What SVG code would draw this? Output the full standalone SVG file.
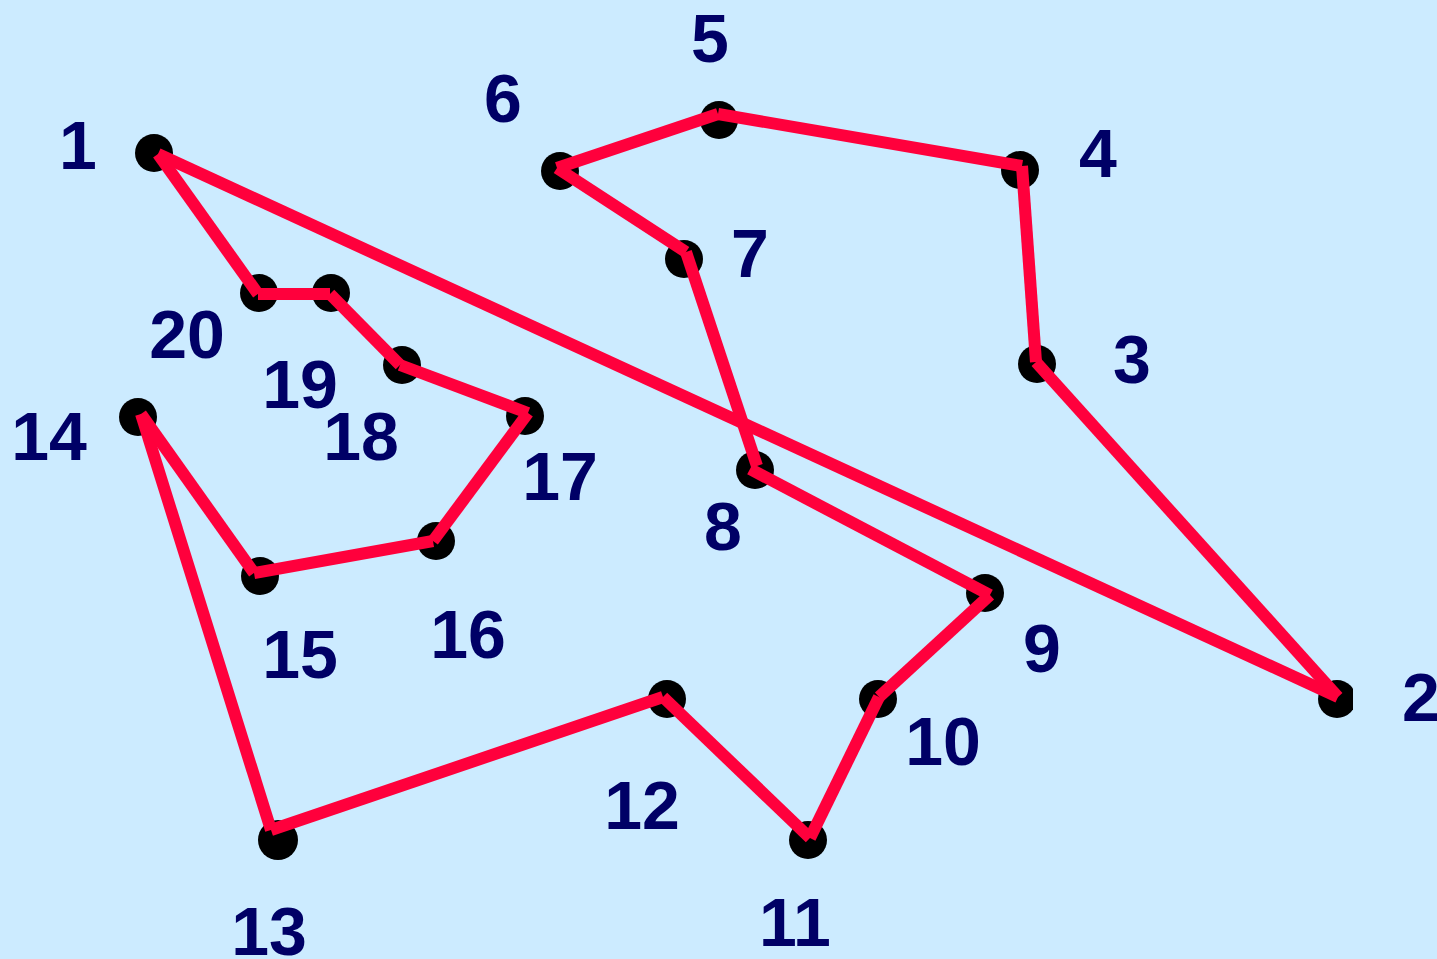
<svg xmlns="http://www.w3.org/2000/svg" width="1437" height="959" viewBox="0 0 1437 959">
<defs>
<style>
.dot{fill:#000000;}
.seg{stroke:#FF003C;stroke-width:12;stroke-linecap:butt;fill:none;}
.lbl{font-family:"Liberation Sans",Arial,sans-serif;font-weight:bold;font-size:68px;fill:#000066;text-anchor:middle;}
</style>
<clipPath id="plot"><rect x="0" y="0" width="1353" height="959"/></clipPath>
</defs>
<rect x="0" y="0" width="1437" height="959" fill="#CCEBFF"/>
<g id="dots" clip-path="url(#plot)">
<circle id="n1" class="dot" cx="154" cy="153" r="19"/>
<circle id="n2" class="dot" cx="1337" cy="699" r="19"/>
<circle id="n3" class="dot" cx="1037" cy="364" r="19"/>
<circle id="n4" class="dot" cx="1020" cy="170" r="19"/>
<circle id="n5" class="dot" cx="719" cy="120" r="19"/>
<circle id="n6" class="dot" cx="560" cy="171" r="19"/>
<circle id="n7" class="dot" cx="684" cy="259" r="19"/>
<circle id="n8" class="dot" cx="755" cy="470" r="19"/>
<circle id="n9" class="dot" cx="985" cy="593" r="19"/>
<circle id="n10" class="dot" cx="878" cy="699" r="19"/>
<circle id="n11" class="dot" cx="808" cy="840" r="19"/>
<circle id="n12" class="dot" cx="667" cy="699" r="19"/>
<circle id="n13" class="dot" cx="278" cy="840" r="20"/>
<circle id="n14" class="dot" cx="138" cy="417" r="19"/>
<circle id="n15" class="dot" cx="260" cy="576" r="19"/>
<circle id="n16" class="dot" cx="436" cy="541" r="19"/>
<circle id="n17" class="dot" cx="525" cy="416" r="19"/>
<circle id="n18" class="dot" cx="402" cy="365" r="19"/>
<circle id="n19" class="dot" cx="331" cy="293" r="19"/>
<circle id="n20" class="dot" cx="259" cy="293" r="19"/>
</g>
<g id="connectors">
<line class="seg" x1="158" y1="154" x2="1338" y2="697"/>
<line class="seg" x1="1338" y1="697" x2="1036" y2="362"/>
<line class="seg" x1="1036" y1="362" x2="1022" y2="166"/>
<line class="seg" x1="1022" y1="166" x2="718" y2="114"/>
<line class="seg" x1="718" y1="114" x2="557" y2="168"/>
<line class="seg" x1="557" y1="168" x2="686" y2="252"/>
<line class="seg" x1="686" y1="252" x2="757" y2="466"/>
<line class="seg" x1="750" y1="469" x2="990" y2="595"/>
<line class="seg" x1="990" y1="595" x2="879" y2="697"/>
<line class="seg" x1="879" y1="697" x2="810" y2="838"/>
<line class="seg" x1="810" y1="838" x2="663" y2="697"/>
<line class="seg" x1="663" y1="697" x2="271" y2="830"/>
<line class="seg" x1="271" y1="830" x2="141" y2="414"/>
<line class="seg" x1="141" y1="414" x2="254" y2="573"/>
<line class="seg" x1="254" y1="573" x2="433" y2="541"/>
<line class="seg" x1="433" y1="541" x2="528" y2="413"/>
<line class="seg" x1="528" y1="413" x2="400" y2="365"/>
<line class="seg" x1="400" y1="365" x2="330" y2="294"/>
<line class="seg" x1="330" y1="294" x2="258" y2="294"/>
<line class="seg" x1="258" y1="294" x2="158" y2="154"/>
</g>
<g id="labels">
<text id="l1" class="lbl" x="78" y="169">1</text>
<text id="l2" class="lbl" x="1421" y="721">2</text>
<text id="l3" class="lbl" x="1132" y="383">3</text>
<text id="l4" class="lbl" x="1098" y="177">4</text>
<text id="l5" class="lbl" x="710" y="62">5</text>
<text id="l6" class="lbl" x="503" y="122">6</text>
<text id="l7" class="lbl" x="750" y="277">7</text>
<text id="l8" class="lbl" x="723" y="550">8</text>
<text id="l9" class="lbl" x="1042" y="672">9</text>
<text id="l10" class="lbl" x="943" y="765">10</text>
<text id="l11" class="lbl" x="795" y="946">11</text>
<text id="l12" class="lbl" x="642" y="829">12</text>
<text id="l13" class="lbl" x="269" y="955">13</text>
<text id="l14" class="lbl" x="49" y="460">14</text>
<text id="l15" class="lbl" x="300" y="678">15</text>
<text id="l16" class="lbl" x="468" y="658">16</text>
<text id="l17" class="lbl" x="560" y="500">17</text>
<text id="l18" class="lbl" x="361" y="460">18</text>
<text id="l19" class="lbl" x="300" y="408">19</text>
<text id="l20" class="lbl" x="187" y="358">20</text>
</g>
</svg>
